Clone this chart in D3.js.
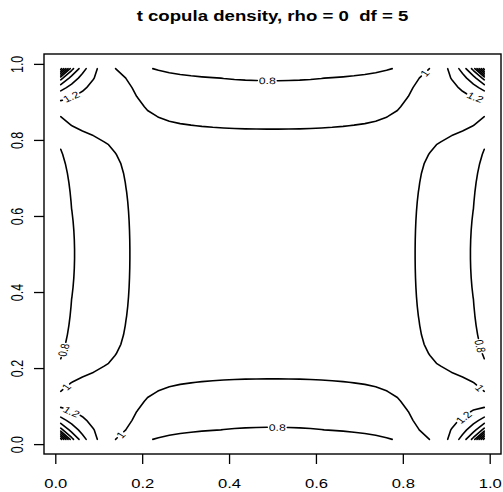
<!DOCTYPE html>
<html>
<head>
<meta charset="utf-8">
<script src="https://cdn.jsdelivr.net/npm/d3@7"></script>
<style>
  body { margin: 0; background: #fff; }
  svg { display: block; }
  text { font-family: "Liberation Sans", Arial, Helvetica, sans-serif; }
</style>
</head>
<body>
<svg id="chart"></svg>
<script>
// parameters of the copula, read from the title
const rho = 0;
const df = 5;

// contour levels (pretty steps of 0.2 over the density range)
const levels = [0.8, 1, 1.2, 1.4, 1.6, 1.8, 2, 2.2, 2.4, 2.6, 2.8];

// evaluation grid on [0,1]
const gridStart = 0.0125;
const gridStep = 0.025;
const gridCount = 40;

// axis ticks
const xTicks = [0, 0.2, 0.4, 0.6, 0.8, 1.0];
const yTicks = [0, 0.2, 0.4, 0.6, 0.8, 1.0];

// where the contour labels sit (approx)
const labelLevels = [0.8, 0.8, 0.8, 0.8, 1, 1, 1, 1, 1.2, 1.2, 1.2, 1.2];
const labelU = [0.488, 0.511, 0.021, 0.985, 0.849, 0.025, 0.149, 0.978, 0.037, 0.973, 0.037, 0.941];
const labelV = [0.953, 0.045, 0.247, 0.260, 0.977, 0.151, 0.026, 0.149, 0.912, 0.910, 0.085, 0.068];

const W = 503, H = 492;
const sx = 1.33; // picture is stretched sideways, text too

const svg = d3.select("#chart").attr("width", W).attr("height", H);

const x = d3.scaleLinear().domain([-0.026, 1.026]).range([44, 501]);
const y = d3.scaleLinear().domain([-0.026, 1.026]).range([454, 54]);

// --- t distribution helpers ---
function lgamma(z) {
    const c = [0.99999999999980993, 676.5203681218851, -1259.1392167224028,
        771.32342877765313, -176.61502916214059, 12.507343278686905,
        -0.13857109526572012, 9.9843695780195716e-6, 1.5056327351493116e-7];
    if (z < 0.5) return Math.log(Math.PI / Math.sin(Math.PI * z)) - lgamma(1 - z);
    z -= 1;
    let a = c[0];
    const t = z + 7.5;
    for (let i = 1; i < 9; i++) a += c[i] / (z + i);
    return 0.5 * Math.log(2 * Math.PI) + (z + 0.5) * Math.log(t) - t + Math.log(a);
}

const k1 = Math.exp(lgamma((df + 1) / 2) - lgamma(df / 2)) / Math.sqrt(df * Math.PI);
const dt1 = t => k1 * Math.pow(1 + t * t / df, -(df + 1) / 2);

function pt(t) {
    const n = 400, a = Math.abs(t), h = a / n;
    let s = dt1(0) + dt1(a);
    for (let i = 1; i < n; i++) s += (i % 2 ? 4 : 2) * dt1(i * h);
    return 0.5 + Math.sign(t) * s * h / 3;
}

function qt(p) {
    let lo = -30, hi = 30;
    for (let i = 0; i < 60; i++) {
        const mid = (lo + hi) / 2;
        if (pt(mid) < p) lo = mid; else hi = mid;
    }
    return (lo + hi) / 2;
}

const k2 = Math.exp(lgamma((df + 2) / 2) - lgamma(df / 2)) / (df * Math.PI * Math.sqrt(1 - rho * rho));
function dcop(qx, qy) {
    const q = (qx * qx - 2 * rho * qx * qy + qy * qy) / (df * (1 - rho * rho));
    return k2 * Math.pow(1 + q, -(df + 2) / 2) / (dt1(qx) * dt1(qy));
}

// density on the grid
const gridU = d3.range(gridCount).map(i => gridStart + i * gridStep);
const quant = gridU.map(qt);
const values = new Array(gridCount * gridCount);
for (let j = 0; j < gridCount; j++) {
    for (let i = 0; i < gridCount; i++) {
        values[j * gridCount + i] = dcop(quant[i], quant[j]);
    }
}

const contours = d3.contours().size([gridCount, gridCount]).thresholds(levels)(values);

// turn closed rings into open contour lines (drop the padded border)
function openLines(ring, n) {
    const inside = p => p[0] > 0 && p[0] < n && p[1] > 0 && p[1] < n;
    let pts = ring.slice();
    const f = pts[0], l = pts[pts.length - 1];
    if (pts.length > 1 && f[0] === l[0] && f[1] === l[1]) pts.pop();
    const k = pts.findIndex(p => !inside(p));
    if (k < 0) return [pts.concat([pts[0]])];
    const rot = pts.slice(k).concat(pts.slice(0, k));
    const out = [];
    let cur = [];
    rot.forEach(p => {
        if (inside(p)) cur.push(p);
        else { if (cur.length > 1) out.push(cur); cur = []; }
    });
    if (cur.length > 1) out.push(cur);
    return out;
}

const toData = c => gridStart + (c - 0.5) * gridStep;

const lines = [];
contours.forEach(ct => {
    ct.coordinates.forEach(poly => {
        poly.forEach(ring => {
            openLines(ring, gridCount).forEach(pl => {
                const pts = pl.map(p => [x(toData(p[0])), y(toData(p[1]))]);
                const cum = [0];
                for (let i = 1; i < pts.length; i++) {
                    cum.push(cum[i - 1] + Math.hypot(pts[i][0] - pts[i - 1][0], pts[i][1] - pts[i - 1][1]));
                }
                lines.push({ level: ct.value, pts, cum, gaps: [] });
            });
        });
    });
});

function pointAt(line, s) {
    const { pts, cum } = line;
    if (s <= 0) return pts[0];
    for (let i = 1; i < pts.length; i++) {
        if (cum[i] >= s) {
            const seg = cum[i] - cum[i - 1] || 1;
            const t = (s - cum[i - 1]) / seg;
            return [pts[i - 1][0] + t * (pts[i][0] - pts[i - 1][0]), pts[i - 1][1] + t * (pts[i][1] - pts[i - 1][1])];
        }
    }
    return pts[pts.length - 1];
}

function piece(line, a, b) {
    const { pts, cum } = line;
    const out = [pointAt(line, a)];
    for (let i = 0; i < pts.length; i++) if (cum[i] > a && cum[i] < b) out.push(pts[i]);
    out.push(pointAt(line, b));
    return out;
}

// --- labels ---
const gLab = svg.append("g");
labelLevels.forEach((lev, idx) => {
    const px = x(labelU[idx]), py = y(labelV[idx]);
    let best = null;
    lines.filter(l => Math.abs(l.level - lev) < 1e-9).forEach(l => {
        for (let i = 0; i < l.pts.length - 1; i++) {
            const a = l.pts[i], b = l.pts[i + 1];
            const dx = b[0] - a[0], dy = b[1] - a[1], len2 = dx * dx + dy * dy || 1e-9;
            let t = ((px - a[0]) * dx + (py - a[1]) * dy) / len2;
            t = Math.max(0, Math.min(1, t));
            const d = (a[0] + t * dx - px) ** 2 + (a[1] + t * dy - py) ** 2;
            if (!best || d < best.d) best = { d, line: l, s: l.cum[i] + t * Math.sqrt(len2) };
        }
    });
    if (!best) return;
    const line = best.line;
    const L = line.cum[line.cum.length - 1];
    const label = gLab.append("text")
        .text(String(lev))
        .attr("font-size", 9.2)
        .attr("text-anchor", "middle")
        .attr("dominant-baseline", "central")
        .attr("fill", "#000");
    const w = label.node().getComputedTextLength();

    let half = w * sx / 2 + 1.5, s0, p1, p2, ang;
    for (let pass = 0; pass < 2; pass++) {
        s0 = L < 2 * half ? L / 2 : Math.max(half, Math.min(L - half, best.s));
        p1 = pointAt(line, s0 - half);
        p2 = pointAt(line, s0 + half);
        ang = Math.atan2(p2[1] - p1[1], (p2[0] - p1[0]) / sx);
        half = w * Math.hypot(sx * Math.cos(ang), Math.sin(ang)) / 2 + 1.5;
    }
    let deg = ang * 180 / Math.PI;
    if (deg > 90) deg -= 180;
    if (deg < -90) deg += 180;
    const cx = (p1[0] + p2[0]) / 2, cy = (p1[1] + p2[1]) / 2;
    label.attr("transform", `translate(${cx},${cy}) scale(${sx},1) rotate(${deg})`);
    line.gaps.push([s0 - half, s0 + half]);
});

// --- contour lines ---
const lineGen = d3.line();
const gLines = svg.insert("g", "g");
lines.forEach(l => {
    const L = l.cum[l.cum.length - 1];
    const gaps = l.gaps.sort((a, b) => a[0] - b[0]);
    let start = 0;
    const parts = [];
    gaps.forEach(g => {
        if (g[0] > start) parts.push([start, g[0]]);
        start = Math.max(start, g[1]);
    });
    if (start < L) parts.push([start, L]);
    parts.forEach(([a, b]) => {
        gLines.append("path")
            .attr("d", lineGen(piece(l, a, b)))
            .attr("fill", "none")
            .attr("stroke", "#000")
            .attr("stroke-width", 1.6)
            .attr("stroke-linecap", "round")
            .attr("stroke-linejoin", "round");
    });
});

// --- axes ---
const xAxis = svg.append("g")
    .attr("transform", "translate(0,454)")
    .call(d3.axisBottom(x).tickValues(xTicks).tickFormat(d3.format(".1f")).tickSize(10).tickPadding(15));
xAxis.select(".domain").remove();
xAxis.selectAll("line").attr("stroke-width", 1.3);
xAxis.selectAll("text")
    .attr("font-size", 12.5)
    .attr("font-family", null)
    .attr("fill", "#000")
    .attr("transform", `scale(${sx},1)`);

const yAxis = svg.append("g")
    .attr("transform", "translate(44,0)")
    .call(d3.axisLeft(y).tickValues(yTicks).tickFormat(d3.format(".1f")).tickSize(10));
yAxis.select(".domain").remove();
yAxis.selectAll("line").attr("stroke-width", 1.3);
yAxis.selectAll("text")
    .attr("font-size", 12.5)
    .attr("font-family", null)
    .attr("fill", "#000")
    .attr("x", 0)
    .attr("y", 0)
    .attr("dy", 0)
    .attr("text-anchor", "middle")
    .attr("transform", `translate(-21,0) scale(${sx},1) rotate(-90)`);

// plot box
svg.append("rect")
    .attr("x", 44).attr("y", 54)
    .attr("width", 457).attr("height", 400)
    .attr("fill", "none")
    .attr("stroke", "#000")
    .attr("stroke-width", 1.4);

// title
svg.append("text")
    .attr("transform", `translate(272.5,21) scale(${sx},1)`)
    .attr("text-anchor", "middle")
    .attr("font-size", 14)
    .attr("font-weight", "bold")
    .style("white-space", "pre")
    .text("t copula density, rho = 0  df = 5");
</script>
</body>
</html>
